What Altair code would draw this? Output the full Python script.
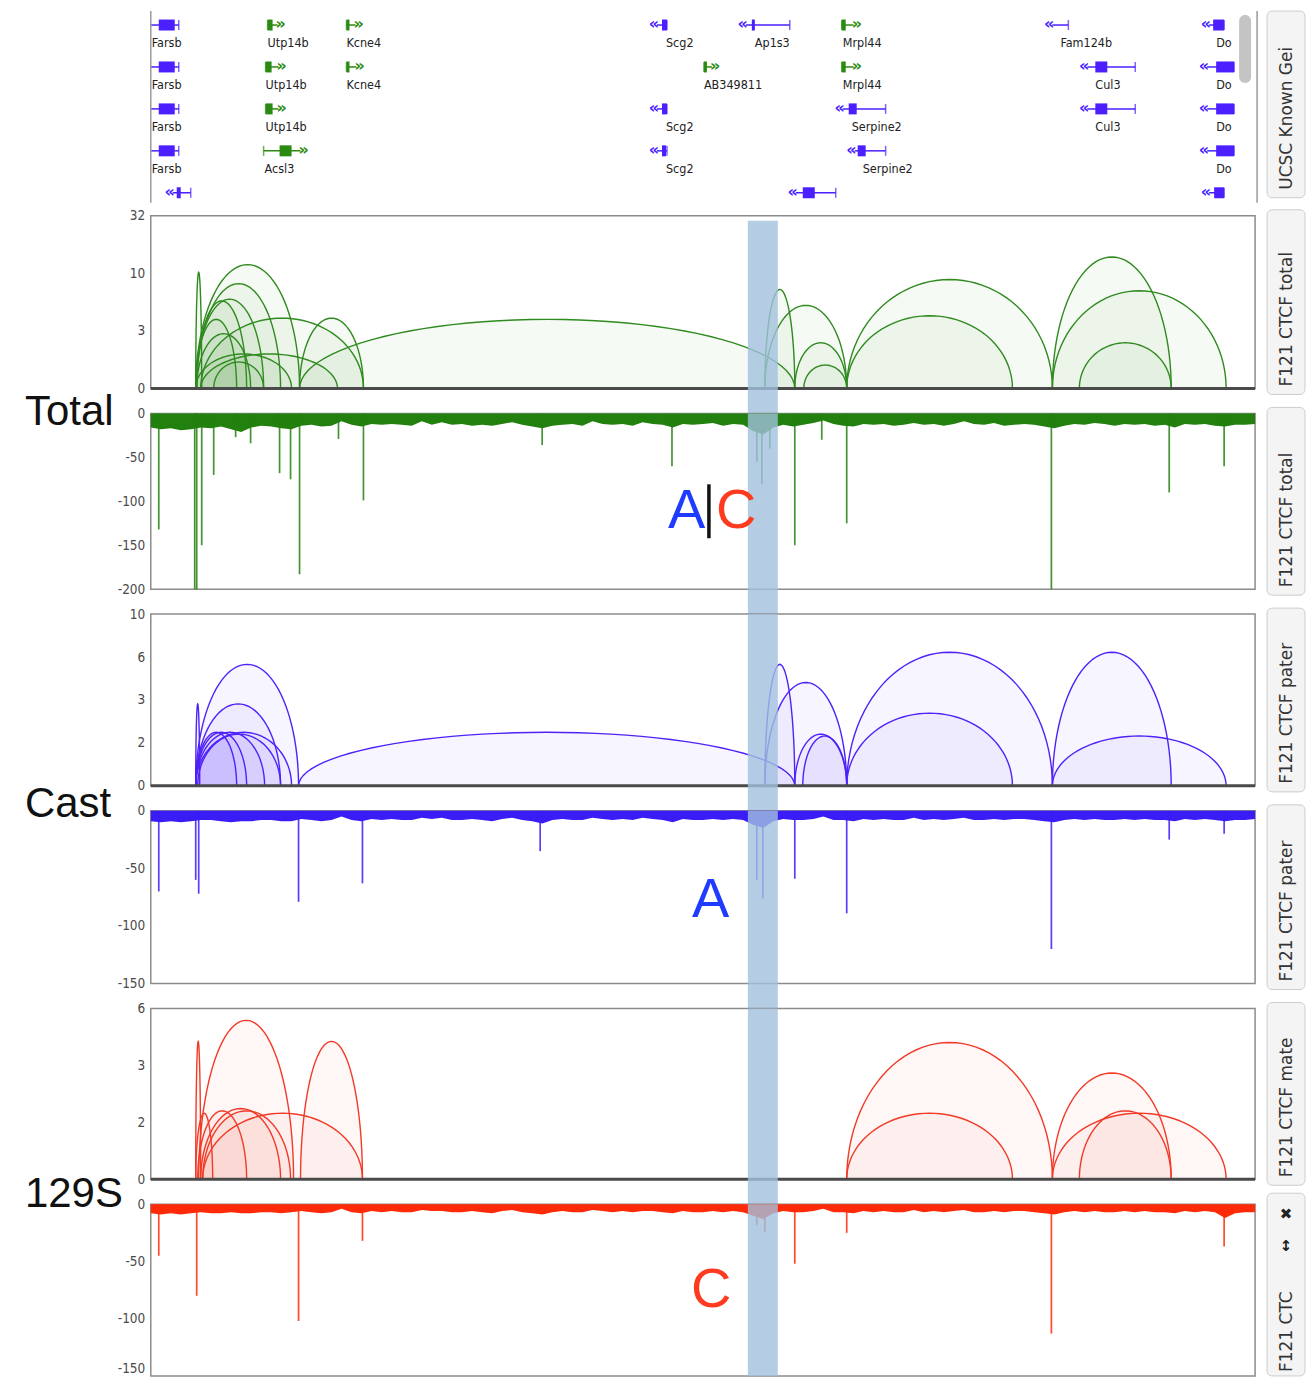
import altair as alt
import numpy as np
import pandas as pd

# ---------------- layout ----------------
W = 1106
H_GENE = 180
H_ARC = [173, 172, 171]
H_COV = [176, 173, 172]
GAP = 25
XDOM = [0, 2212]  # kb from start of region

GREEN_ARC, GREEN_COV = "#2f8a1f", "#22800e"
BLUE_ARC, BLUE_COV = "#4f22f8", "#3a1cf7"
RED_ARC, RED_COV = "#f23a28", "#ff2a08"
GENE_BLUE, GENE_GREEN = "#4b1fff", "#2a8a12"
BAND_COLOR = "#a1c0dd"
COND = "'DejaVu Sans Condensed', 'Liberation Sans Narrow', 'DejaVu Sans', sans-serif"

# ---------------- data ----------------
band_start = [1196]
band_end = [1256]

# genes (kb)
gene_name = ["Farsb", "Utp14b", "Kcne4", "Scg2", "Ap1s3", "Mrpl44", "Fam124b", "Do",
             "Farsb", "Utp14b", "Kcne4", "AB349811", "Mrpl44", "Cul3", "Do",
             "Farsb", "Utp14b", "Scg2", "Serpine2", "Cul3", "Do",
             "Farsb", "Acsl3", "Scg2", "Serpine2", "Do",
             "", "", ""]
gene_row = [1] * 8 + [2] * 7 + [3] * 6 + [4] * 5 + [5] * 3
gene_start = [0, 234, 392, 1014, 1192, 1384, 1806, 2120,
              0, 230, 392, 1108, 1384, 1876, 2116,
              0, 230, 1014, 1386, 1876, 2116,
              0, 226, 1014, 1410, 2116,
              44, 1292, 2120]
gene_end = [56, 254, 410, 1034, 1280, 1408, 1838, 2150,
            56, 256, 412, 1124, 1408, 1972, 2170,
            56, 256, 1034, 1472, 1972, 2170,
            56, 300, 1034, 1472, 2170,
            80, 1372, 2150]
thick_start = [16, 234, 392, 1024, 1204, 1384, None, 2128,
               16, 230, 392, 1108, 1384, 1892, 2134,
               16, 230, 1024, 1398, 1892, 2134,
               16, 258, 1024, 1416, 2134,
               52, 1306, 2130]
thick_end = [48, 244, 398, 1034, 1210, 1392, None, 2150,
             48, 242, 398, 1114, 1392, 1916, 2170,
             48, 244, 1034, 1414, 1916, 2170,
             48, 282, 1032, 1432, 2170,
             60, 1330, 2150]
gene_strand = [".", "+", "+", "-", "-", "+", "-", "-",
               ".", "+", "+", "+", "+", "-", "-",
               ".", "+", "-", "-", "-", "-",
               ".", "+", "-", "-", "-",
               "-", "-", "-"]
label_x = [2, 234, 392, 1032, 1210, 1386, 1822, 2134,
           2, 230, 392, 1108, 1386, 1892, 2134,
           2, 230, 1032, 1404, 1892, 2134,
           2, 228, 1032, 1426, 2134,
           0, 0, 0]

# interaction arcs: start (kb), end (kb), height (value)
total_arc_start = [90, 90, 92, 90, 92, 90, 100, 92, 100, 90, 126, 298, 298,
                   1230, 1230, 1290, 1308, 1394, 1394, 1806, 1806, 1860]
total_arc_end = [102, 298, 260, 226, 192, 172, 426, 200, 374, 282, 226, 426, 1290,
                 1290, 1394, 1394, 1394, 1806, 1726, 2044, 2154, 2044]
total_arc_height = [10.3, 12, 8.2, 6.0, 5.8, 4.0, 4.1, 3.0, 2.0, 2.0, 1.7, 4.1, 4.0,
                    7.3, 5.3, 2.5, 1.6, 8.9, 4.3, 14, 7.1, 2.5]

cast_arc_start = [90, 90, 90, 90, 90, 90, 94, 90, 296, 1230, 1230, 1290, 1306, 1394, 1394, 1806, 1806]
cast_arc_end = [98, 296, 260, 172, 192, 228, 260, 282, 1290, 1290, 1394, 1394, 1394, 1806, 1726, 2044, 2154]
cast_arc_height = [3.0, 5.1, 3.0, 2.05, 2.05, 2.05, 2.0, 2.05, 2.05, 5.1, 4.0, 2.0, 1.95, 6.0, 2.65, 6.0, 1.95]

s129_arc_start = [90, 96, 300, 90, 94, 100, 104, 104, 1394, 1394, 1806, 1806, 1860]
s129_arc_end = [100, 286, 424, 124, 192, 260, 280, 424, 1806, 1726, 2044, 2154, 2044]
s129_arc_height = [4.25, 5.3, 4.25, 2.0, 2.05, 2.1, 2.05, 2.0, 4.2, 2.0, 3.05, 2.0, 2.05]

# coverage background (evenly spaced along the region)
total_cov = [-16, -18, -17, -19, -18, -16, -17, -15, -18, -21,
             -16, -14, -15, -17, -18, -14, -13, -15, -14, -9,
             -13, -15, -12, -13, -12, -13, -14, -9, -13, -10,
             -13, -12, -14, -13, -14, -12, -10, -13, -15, -17,
             -14, -13, -12, -14, -9, -12, -13, -12, -14, -10,
             -12, -13, -16, -12, -13, -12, -11, -14, -12, -13,
             -20, -24, -16, -13, -15, -13, -11, -8, -12, -14,
             -15, -12, -13, -12, -14, -13, -11, -13, -12, -14,
             -12, -9, -12, -13, -11, -14, -13, -12, -13, -15,
             -17, -14, -12, -13, -11, -12, -14, -12, -13, -12,
             -14, -13, -16, -12, -13, -12, -14, -15, -13, -13, -12]
cast_cov = [-9, -10, -9, -10, -9, -8, -8, -9, -10, -9,
            -9, -8, -8, -9, -9, -7, -8, -9, -8, -5,
            -8, -9, -7, -8, -7, -8, -8, -6, -7, -6,
            -8, -8, -7, -8, -9, -7, -6, -8, -9, -11,
            -8, -7, -8, -8, -6, -7, -8, -7, -8, -6,
            -7, -8, -10, -7, -8, -8, -7, -8, -7, -8,
            -12, -15, -9, -7, -8, -8, -7, -5, -8, -8,
            -9, -7, -8, -7, -8, -8, -6, -8, -7, -8,
            -7, -6, -8, -8, -7, -8, -7, -7, -8, -9,
            -10, -8, -7, -8, -7, -8, -8, -7, -8, -7,
            -8, -8, -9, -7, -8, -7, -8, -9, -8, -8, -7]
s129_cov = [-8, -9, -8, -9, -8, -7, -8, -8, -7, -8,
            -8, -7, -7, -8, -7, -6, -7, -8, -7, -4,
            -7, -8, -6, -7, -6, -7, -7, -5, -6, -6,
            -7, -7, -6, -7, -8, -6, -5, -7, -8, -9,
            -7, -6, -7, -7, -5, -6, -7, -6, -7, -6,
            -6, -7, -8, -6, -7, -7, -6, -7, -6, -7,
            -10, -13, -8, -6, -7, -7, -6, -4, -7, -7,
            -8, -6, -7, -6, -7, -7, -5, -7, -6, -7,
            -6, -5, -7, -7, -6, -7, -6, -6, -7, -8,
            -9, -7, -6, -7, -6, -7, -7, -6, -7, -6,
            -7, -7, -8, -6, -7, -6, -7, -12, -8, -7, -7]

# coverage peaks
total_peak_pos = [16, 88, 92, 102, 126, 170, 200, 258, 280, 298, 376, 426, 784, 1044,
                  1214, 1224, 1240, 1290, 1344, 1394, 1804, 2040, 2150]
total_peak_depth = [-132, -200, -200, -150, -70, -27, -34, -68, -75, -183, -29, -99, -36, -60,
                    -55, -80, -40, -150, -30, -125, -200, -90, -60]
cast_peak_pos = [16, 90, 96, 296, 424, 780, 1214, 1226, 1290, 1394, 1804, 2040, 2150]
cast_peak_depth = [-70, -60, -72, -79, -63, -35, -60, -76, -59, -89, -120, -25, -20]
s129_peak_pos = [16, 92, 296, 424, 1214, 1230, 1290, 1394, 1804, 2150]
s129_peak_depth = [-45, -80, -102, -32, -18, -24, -52, -25, -113, -37]

arc_ticks = [[1, 3.1748, 10.0794, 32], [1, 1.7783, 3.1623, 5.6234, 10], [1, 1.8171, 3.3019, 6]]
cov_ticks = [[0, -50, -100, -150, -200], [0, -50, -100, -150], [0, -50, -100, -150]]

ONE = pd.DataFrame({"k": [0]})


def xenc(field):
    return alt.X(f"{field}:Q", scale=alt.Scale(domain=XDOM), axis=None)


def band_layer(y0, y1):
    df = pd.DataFrame({"bs": band_start, "be": band_end})
    return alt.Chart(df).mark_rect(color=BAND_COLOR, opacity=0.8).encode(
        x=xenc("bs"), x2="be:Q", y=alt.value(y0), y2=alt.value(y1))


def tab_layers(label, y0, y1, ty=None):
    rect = alt.Chart(ONE).mark_rect(fill="#f4f4f4", stroke="#cdcdcd", strokeWidth=1, cornerRadius=5).encode(
        x=alt.value(W + 12), x2=alt.value(W + 50), y=alt.value(y0), y2=alt.value(y1))
    text = alt.Chart(ONE).mark_text(text=label, angle=270, align="left", baseline="middle",
                                    fontSize=17, font="DejaVu Sans", color="#333333").encode(
        x=alt.value(W + 32), y=alt.value(ty if ty is not None else y1 - 8))
    return [rect, text]


def arc_panel(starts, ends, heights, color, ticks, h, y0, y1, label):
    df = pd.DataFrame({"id": list(range(len(starts))), "s": starts, "e": ends, "h": heights})
    base = (alt.Chart(df)
            .transform_calculate(t="sequence(0, 49)")
            .transform_flatten(["t"])
            .transform_calculate(ang="PI * datum.t / 48")
            .transform_calculate(
                ax="(datum.s + datum.e) / 2 - (datum.e - datum.s) / 2 * cos(datum.ang)",
                ay="pow(datum.h, sin(datum.ang))",
                base="1"))
    yscale = alt.Scale(type="log", domain=[1, ticks[-1]])
    area = base.mark_area(color=color, fillOpacity=0.045).encode(
        x=xenc("ax"),
        y=alt.Y("ay:Q", scale=yscale, axis=alt.Axis(
            values=ticks, title="",
            labelExpr="datum.value < 1.01 ? '0' : format(datum.value, '.0f')")),
        y2="base:Q", detail="id:N")
    line = base.mark_line(color=color, strokeWidth=1.4).encode(
        x=xenc("ax"), y=alt.Y("ay:Q", scale=yscale), detail="id:N", order="t:Q")
    baseline = alt.Chart(ONE).mark_rule(color="#4a4a4a", strokeWidth=3).encode(
        x=alt.value(0), x2=alt.value(W), y=alt.value(h))
    return alt.layer(area, line, baseline, band_layer(y0, y1),
                     *tab_layers(label, -6, h + 6)).properties(width=W, height=h)


def cov_panel(vals, ppos, pdep, color, ticks, h, y0, y1, label, extra, tab=None, last=False, top=()):
    df = pd.DataFrame({"x": np.linspace(XDOM[0], XDOM[1], len(vals)), "v": vals})
    yscale = alt.Scale(domain=[ticks[-1], 0])
    axis_kw = dict(values=ticks, title="", labelExpr="'' + datum.value")
    if last:
        axis_kw["labelBaseline"] = {"condition": {"test": f"datum.value <= {ticks[-1]}", "value": "bottom"},
                                    "value": "middle"}
    area = alt.Chart(df).mark_area(color=color).encode(
        x=xenc("x"), y=alt.Y("v:Q", scale=yscale, axis=alt.Axis(**axis_kw)))
    pdf = pd.DataFrame({"x": ppos, "v": pdep})
    peaks = alt.Chart(pdf).mark_rule(color=color, strokeWidth=1.7, opacity=0.85).encode(
        x=xenc("x"), y=alt.Y("v:Q", scale=yscale), y2=alt.datum(0))
    tabs = tab if tab is not None else tab_layers(label, -6, h + 6)
    return alt.layer(area, peaks, band_layer(y0, y1), *extra, *tabs, *top).properties(width=W, height=h)


def big_label(text, y):
    return alt.Chart(ONE).mark_text(text=text, align="left", baseline="alphabetic", fontSize=42,
                                    font="Liberation Sans", color="#111111").encode(
        x=alt.value(-126), y=alt.value(y))


def letter(text, color, x, y):
    return alt.Chart(ONE).mark_text(text=text, align="left", baseline="alphabetic", fontSize=56,
                                    font="Liberation Sans", color=color).encode(
        x=alt.value(x), y=alt.value(y))


# ---------------- gene track ----------------
genes = pd.DataFrame({"name": gene_name, "row": gene_row, "start": gene_start, "end": gene_end,
                      "ts": thick_start, "te": thick_end, "strand": gene_strand, "lx": label_x})
yrow = alt.Y("row:Q", scale=alt.Scale(domain=[0.6667, 4.9524], reverse=True), axis=None)
gbase = alt.Chart(genes).transform_calculate(
    col=f"datum.strand == '+' ? '{GENE_GREEN}' : '{GENE_BLUE}'",
    tx="datum.strand == '+' ? datum.start : datum.end")
gcol = alt.Color("col:N", scale=None)
g_line = gbase.mark_rule(strokeWidth=1.5).encode(x=xenc("start"), x2="end:Q", y=yrow, color=gcol)
g_thick = gbase.transform_filter("isValid(datum.ts)").mark_rule(strokeWidth=11).encode(
    x=xenc("ts"), x2="te:Q", y=yrow, color=gcol)
g_tick = gbase.mark_tick(orient="vertical", size=10, thickness=1.5).encode(
    x=xenc("tx"), y=yrow, color=gcol)
g_minus = gbase.transform_filter("datum.strand == '-'").mark_text(
    text="«", align="right", baseline="middle", dx=2, dy=-1, fontSize=16, fontWeight="bold",
    font="DejaVu Sans").encode(x=xenc("start"), y=yrow, color=gcol)
g_plus = gbase.transform_filter("datum.strand == '+'").mark_text(
    text="»", align="left", baseline="middle", dx=-2, dy=-1, fontSize=16, fontWeight="bold",
    font="DejaVu Sans").encode(x=xenc("end"), y=yrow, color=gcol)
g_label = gbase.transform_filter("datum.name != ''").mark_text(
    align="left", baseline="middle", dy=18, fontSize=12.5, font=COND, color="#222222").encode(
    x=xenc("lx"), y=yrow, text="name:N")
g_left = alt.Chart(ONE).mark_rule(color="#9a9a9a", strokeWidth=1.5).encode(
    x=alt.value(0), y=alt.value(0), y2=alt.value(192))
g_right = alt.Chart(ONE).mark_rule(color="#9a9a9a", strokeWidth=1.5).encode(
    x=alt.value(1108), y=alt.value(0), y2=alt.value(192))
g_scroll = alt.Chart(ONE).mark_rect(fill="#c4c4c4", cornerRadius=6).encode(
    x=alt.value(1090), x2=alt.value(1102), y=alt.value(4), y2=alt.value(72))

gene_panel = alt.layer(g_line, g_thick, g_tick, g_minus, g_plus, g_label, g_left, g_right, g_scroll,
                       *tab_layers("UCSC Known Gei", 0, H_GENE + 7)).properties(
    width=W, height=H_GENE, view=alt.ViewBackground(stroke="transparent"))

# ---------------- data tracks ----------------
a1 = arc_panel(total_arc_start, total_arc_end, total_arc_height, GREEN_ARC, arc_ticks[0],
               H_ARC[0], 5, H_ARC[0] + GAP, "F121 CTCF total")
bar_ac = alt.Chart(ONE).mark_rule(color="#111111", strokeWidth=3.5).encode(
    x=alt.value(559), y=alt.value(71), y2=alt.value(125))
c1 = cov_panel(total_cov, total_peak_pos, total_peak_depth, GREEN_COV, cov_ticks[0], H_COV[0],
               0, H_COV[0] + GAP, "F121 CTCF total",
               [big_label("Total", 12), letter("A", "#1f3bff", 518, 115), bar_ac,
                letter("C", "#ff3b1f", 566, 115)])
a2 = arc_panel(cast_arc_start, cast_arc_end, cast_arc_height, BLUE_ARC, arc_ticks[1],
               H_ARC[1], 0, H_ARC[1] + GAP, "F121 CTCF pater")
c2 = cov_panel(cast_cov, cast_peak_pos, cast_peak_depth, BLUE_COV, cov_ticks[1], H_COV[1],
               0, H_COV[1] + GAP, "F121 CTCF pater",
               [big_label("Cast", 6), letter("A", "#1f3bff", 542, 106)])
a3 = arc_panel(s129_arc_start, s129_arc_end, s129_arc_height, RED_ARC, arc_ticks[2],
               H_ARC[2], 0, H_ARC[2] + GAP, "F121 CTCF mate")
icons = [alt.Chart(ONE).mark_text(text=t, align="center", baseline="middle", fontSize=15,
                                  fontWeight="bold", font="DejaVu Sans", color="#222222").encode(
    x=alt.value(W + 31), y=alt.value(yy)) for t, yy in [("✖", 10), ("↕", 42)]]
c3 = cov_panel(s129_cov, s129_peak_pos, s129_peak_depth, RED_COV, cov_ticks[2], H_COV[2],
               0, H_COV[2], "F121 CTC",
               [big_label("129S", 3), letter("C", "#ff3b1f", 541, 103)],
               tab=tab_layers("F121 CTC", -11, H_COV[2], H_COV[2] - 4), last=True, top=icons)

chart = (alt.vconcat(gene_panel, a1, c1, a2, c2, a3, c3, spacing=GAP, bounds="flush")
         .resolve_scale(x="independent", y="independent")
         .properties(padding={"left": 16, "top": 0, "right": 0, "bottom": 0})
         .configure_view(stroke="#8c8c8c", strokeWidth=1.5)
         .configure_axis(ticks=False, domain=False, grid=False, labelColor="#4a4a4a",
                         labelFont=COND, labelFontSize=13.5, labelPadding=6,
                         labelFlush=False, labelOverlap=False))

chart.save("out.html", embed_options={"renderer": "svg", "actions": False})
